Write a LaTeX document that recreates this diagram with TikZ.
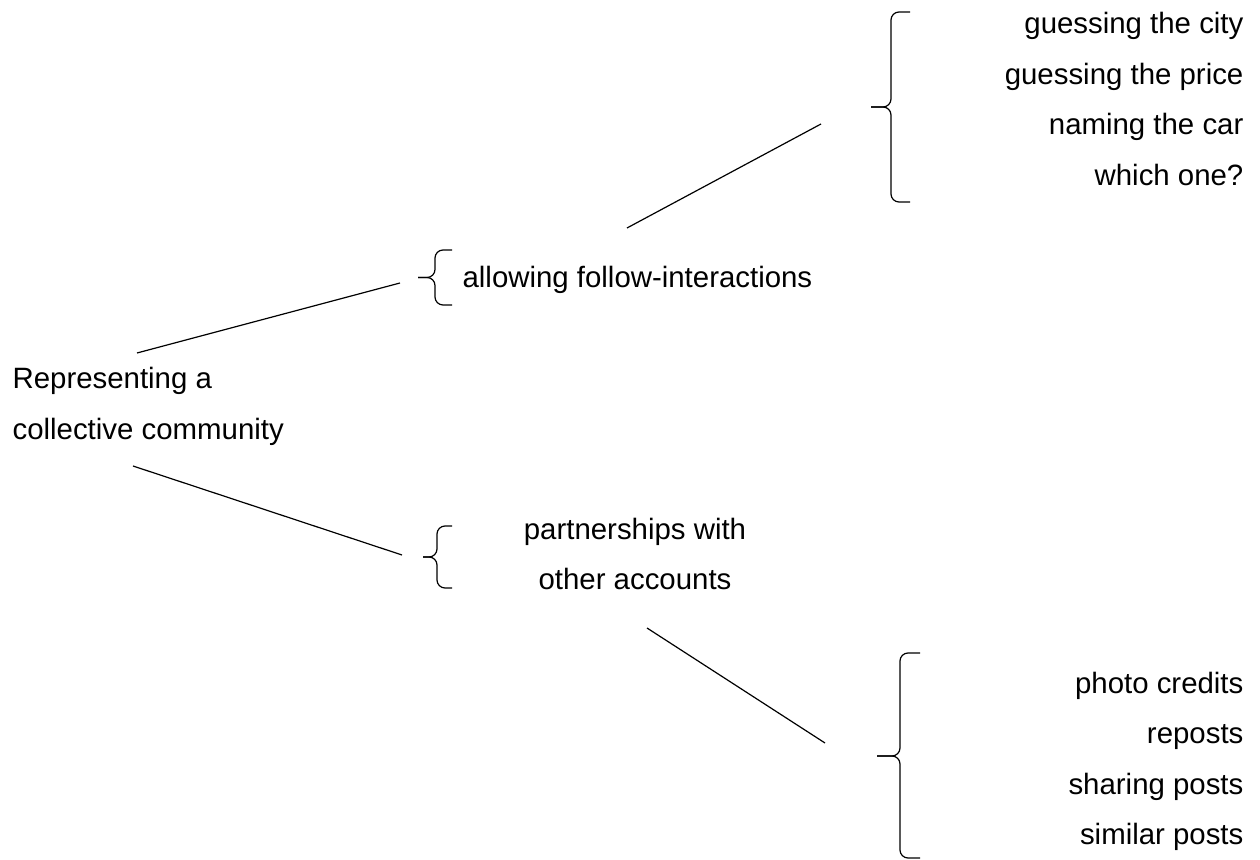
\documentclass[tikz,border=0pt]{standalone}
\usepackage{fontspec}
\setmainfont{Liberation Sans}

\tikzset{
  texto/.style={inner sep=0pt, font=\fontsize{14.7pt}{25.25pt}\selectfont},
  llave/.style={rounded corners=4pt},
}
% llave: gancho x, linea x, punta x, arriba y, medio y, abajo y
\newcommand{\llave}[6]{%
  \draw[llave] (#1,#4) -- (#2,#4) -- (#2,#5) -- (#3,#5);
  \draw[llave] (#1,#6) -- (#2,#6) -- (#2,#5) -- (#3,#5);}

\begin{document}
\begin{tikzpicture}[x=0.5pt, y=-0.5pt, line width=0.6pt]
  \useasboundingbox (0,0) rectangle (1260,860);

  % Textos
  \node[texto, align=left, anchor=base west] (comm) at (12,439.5) {Representing a\\collective community};
  \node[texto, anchor=base west] (allow) at (462,287.5) {allowing follow-interactions};
  \node[texto, align=center, anchor=base] (partner) at (635,590) {partnerships with\\other accounts};
  \node[texto, align=right, anchor=base east] (juegos) at (1244,185.5) {guessing the city\\guessing the price\\naming the car\\which one?};
  \node[texto, align=right, anchor=base east] (fotos) at (1244,845) {photo credits\\reposts\\sharing posts\\similar posts};

  % Llaves
  \llave{910}{891}{871}{12}{107}{202}
  \llave{452}{435}{418}{250}{277.5}{305}
  \llave{452}{437}{423}{526}{557}{588}
  \llave{920}{900}{877}{653}{756}{858}

  % Extremos de las lineas
  \coordinate (comm-a) at (137,353);
  \coordinate (comm-b) at (133,466);
  \coordinate (allow-w) at (400,283);
  \coordinate (allow-e) at (627,228);
  \coordinate (partner-w) at (402,555);
  \coordinate (partner-e) at (647,628);
  \coordinate (juegos-w) at (821,124);
  \coordinate (fotos-w) at (825,743);

  % Lineas
  \draw (comm-a) -- (allow-w);
  \draw (comm-b) -- (partner-w);
  \draw (allow-e) -- (juegos-w);
  \draw (partner-e) -- (fotos-w);

\end{tikzpicture}
\end{document}
